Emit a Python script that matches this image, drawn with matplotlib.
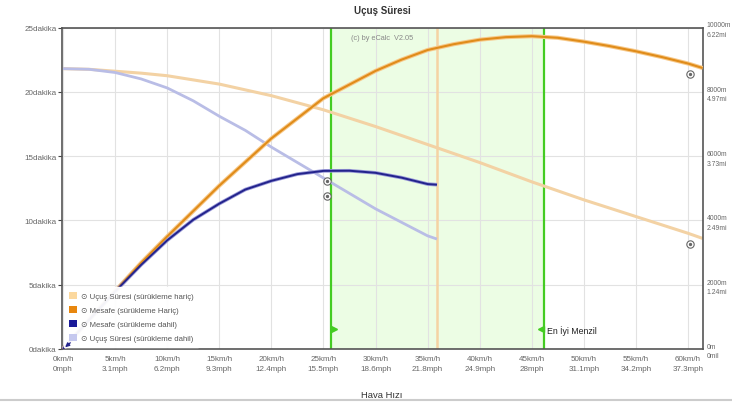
import matplotlib
matplotlib.use("Agg")
import matplotlib.pyplot as plt
from matplotlib.patches import Patch
from matplotlib.lines import Line2D

plt.rcParams['font.family'] = ['Liberation Sans', 'DejaVu Sans']

# ---- data ----
speed_nodrag = [0, 2.5, 5, 7.5, 10, 15, 20, 25, 30, 32.5, 35, 37.5, 40, 42.5, 45, 47.5, 50, 52.5, 55, 57.5, 60, 61.4]
time_nodrag = [21.8, 21.75, 21.6, 21.45, 21.25, 20.6, 19.7, 18.6, 17.3, 16.6, 15.9, 15.2, 14.5, 13.75,
               13.0, 12.3, 11.6, 10.95, 10.3, 9.65, 9.0, 8.6]
dist_nodrag = [0, 908, 1800, 2680, 3500, 5080, 6550, 7800, 8650, 9000, 9300, 9480, 9620, 9700,
               9730, 9680, 9560, 9420, 9260, 9080, 8880, 8740]

speed_drag = [0, 2.5, 5, 7.5, 10, 12.5, 15, 17.5, 20, 22.5, 25, 27.5, 30, 32.5, 35, 35.9]
time_drag = [21.8, 21.75, 21.5, 21.0, 20.3, 19.3, 18.1, 17.0, 15.7, 14.5, 13.3, 12.1, 10.9, 9.85, 8.8, 8.55]
dist_drag = [0, 905, 1790, 2620, 3380, 4020, 4520, 4960, 5230, 5440, 5540, 5545, 5480, 5330, 5130, 5110]

best_range = [25.7, 46.2]
optimum_speed = 35.9

marker_x = [25.3, 25.3, 60.2, 60.2]
marker_y = [13.1, 11.9, 21.4, 8.2]

x_ticks = [0, 5, 10, 15, 20, 25, 30, 35, 40, 45, 50, 55, 60]
mph_labels = ['0', '3.1', '6.2', '9.3', '12.4', '15.5', '18.6', '21.8', '24.9', '28', '31.1', '34.2', '37.3']
y_ticks = [0, 5, 10, 15, 20, 25]
r_ticks = [0, 2000, 4000, 6000, 8000, 10000]
r_labels = ['0m\n0mil', '2000m\n1.24mi', '4000m\n2.49mi', '6000m\n3.73mi', '8000m\n4.97mi', '10000m\n6.22mi']

legend_labels = ['⊙ Uçuş Süresi (sürükleme hariç)', '⊙ Mesafe (sürükleme Hariç)',
                 '⊙ Mesafe (sürükleme dahil)', '⊙ Uçuş Süresi (sürükleme dahil)']

# ---- colours ----
c_time_nd = '#f3d2a4'
c_dist_nd = '#e08c1a'
c_dist_d = '#23238c'
c_time_d = '#b9bde6'
legend_cols = ['#fbd89e', '#e8870e', '#1a1a99', '#c5c8ee']

W, H = 732, 406
fig = plt.figure(figsize=(W / 100, H / 100), dpi=100)
L, R, T, B = 62, 703, 28.5, 350
ax = fig.add_axes([L / W, 1 - B / H, (R - L) / W, (B - T) / H])
ax.set_xlim(-0.1, 61.44)
ax.set_ylim(0, 25)
ax.set_axisbelow(True)
ax.grid(True, color='#e2e2e2', lw=0.8)

ax.axvspan(best_range[0], best_range[1], color='#ecfde4', zorder=0.1, lw=0)
ax.axvline(optimum_speed, color='#f5d3a3', lw=1.8, zorder=1)
for bx in best_range:
    ax.axvline(bx, color='#44cc22', lw=1.6, zorder=1.5)

ax.plot(speed_nodrag, time_nodrag, color=c_time_nd, lw=2.2, zorder=2, solid_capstyle='butt')
ax.plot(speed_drag, time_drag, color=c_time_d, lw=2.0, zorder=2, solid_capstyle='butt')
ax.scatter(marker_x, marker_y, s=28, facecolor='white', edgecolor='#666666', lw=0.8, zorder=5)
ax.scatter(marker_x, marker_y, s=2, color='#666666', zorder=6)

ax.set_xticks(x_ticks)
ax.set_xticklabels([f'{k}km/h\n{m}mph' for k, m in zip(x_ticks, mph_labels)],
                   fontsize=5.8, color='#666666', linespacing=1.7)
ax.set_yticks(y_ticks)
ax.set_yticklabels([f'{v}dakika' for v in y_ticks], fontsize=5.8, color='#666666')
ax.tick_params(axis='x', length=0, pad=4)
ax.tick_params(axis='y', length=3, color='#444444', pad=1)
for s in ax.spines.values():
    s.set_color('#555555')
    s.set_linewidth(1.2)

ax2 = ax.twinx()
ax2.set_ylim(0, 10000)
ax2.plot(speed_nodrag, dist_nodrag, color='#f7c98a', lw=3.0, zorder=2, solid_capstyle='butt')
ax2.plot(speed_nodrag, dist_nodrag, color=c_dist_nd, lw=1.5, zorder=3, solid_capstyle='butt')
ax2.plot(speed_drag, dist_drag, color='#9a9ad8', lw=2.6, zorder=2, solid_capstyle='butt')
ax2.plot(speed_drag, dist_drag, color=c_dist_d, lw=1.4, zorder=3, solid_capstyle='butt')
ax2.set_yticks(r_ticks)
ax2.set_yticklabels(r_labels, fontsize=4.9, color='#666666', linespacing=1.5)
ax2.tick_params(axis='y', length=0, pad=2.5)
for s in ax2.spines.values():
    s.set_visible(False)

# small arrow at origin
ax2.annotate('', xy=(0, 0), xytext=(0.9, 250),
             arrowprops=dict(arrowstyle='-|>', color=c_dist_d, lw=0.9, mutation_scale=6),
             zorder=11, annotation_clip=False)

# best range markers
ax2.plot([best_range[0] + 0.35], [620], marker='>', color='#44cc22', ms=5, zorder=6)
ax2.plot([best_range[1] - 0.35], [620], marker='<', color='#44cc22', ms=5, zorder=6)
ax2.text(best_range[1] + 0.3, 580, 'En İyi Menzil', fontsize=6.3, color='#222222',
         va='center', ha='left', zorder=6)

handles = [Patch(facecolor=c, edgecolor='none') for c in legend_cols]
leg = ax2.legend(handles, legend_labels, loc='lower left', bbox_to_anchor=(0.0, 0.0),
                 fontsize=5.6, frameon=True, facecolor='white', edgecolor='white',
                 framealpha=0.95, handlelength=1.0, handleheight=1.0, handletextpad=0.5,
                 labelspacing=0.75, borderpad=0.6, borderaxespad=0.3, fancybox=False)
for t in leg.get_texts():
    t.set_color('#555555')
leg.set_zorder(10)

fig.text(382 / W, 1 - 11 / H, 'Uçuş Süresi', ha='center', va='center',
         fontsize=7, fontweight='bold', color='#333333')
fig.text(382 / W, 1 - 38 / H, '(c) by eCalc  V2.05', ha='center', va='center',
         fontsize=5.3, color='#888888')
fig.text(382 / W, 1 - 396 / H, 'Hava Hızı', ha='center', va='center',
         fontsize=6.8, color='#333333')
fig.add_artist(Line2D([0, 1], [1 - 401 / H, 1 - 401 / H], color='#cccccc', lw=1.5))

fig.savefig('out.png', dpi=100)
